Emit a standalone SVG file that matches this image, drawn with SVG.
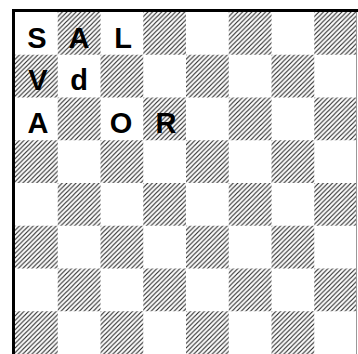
<svg xmlns="http://www.w3.org/2000/svg" width="358" height="354" viewBox="0 0 358 354">
<style>
.l{font-family:"Liberation Sans",Arial,sans-serif;font-weight:bold;font-size:29px;fill:#000;text-anchor:middle}
</style>
<defs>
<pattern id="hatch" patternUnits="userSpaceOnUse" width="4.6" height="4.6">
<path d="M-1,1 L1,-1 M0,4.6 L4.6,0 M3.6,5.6 L5.6,3.6" stroke="#222" stroke-width="1.1"/>
</pattern>
<rect id="h" width="42.75" height="42.75" fill="url(#hatch)"/>
</defs>
<rect width="358" height="354" fill="#fff"/>
<g id="board">
<use href="#h" x="57.75" y="12"/><use href="#h" x="143.25" y="12"/><use href="#h" x="228.75" y="12"/><use href="#h" x="314.25" y="12"/>
<use href="#h" x="15" y="54.75"/><use href="#h" x="100.5" y="54.75"/><use href="#h" x="186" y="54.75"/><use href="#h" x="271.5" y="54.75"/>
<use href="#h" x="57.75" y="97.5"/><use href="#h" x="143.25" y="97.5"/><use href="#h" x="228.75" y="97.5"/><use href="#h" x="314.25" y="97.5"/>
<use href="#h" x="15" y="140.25"/><use href="#h" x="100.5" y="140.25"/><use href="#h" x="186" y="140.25"/><use href="#h" x="271.5" y="140.25"/>
<use href="#h" x="57.75" y="183"/><use href="#h" x="143.25" y="183"/><use href="#h" x="228.75" y="183"/><use href="#h" x="314.25" y="183"/>
<use href="#h" x="15" y="225.75"/><use href="#h" x="100.5" y="225.75"/><use href="#h" x="186" y="225.75"/><use href="#h" x="271.5" y="225.75"/>
<use href="#h" x="57.75" y="268.5"/><use href="#h" x="143.25" y="268.5"/><use href="#h" x="228.75" y="268.5"/><use href="#h" x="314.25" y="268.5"/>
<use href="#h" x="15" y="311.25"/><use href="#h" x="100.5" y="311.25"/><use href="#h" x="186" y="311.25"/><use href="#h" x="271.5" y="311.25"/>
</g>
<g id="frame">
<rect x="12" y="9" width="346" height="3" fill="#000"/>
<rect x="12" y="9" width="3" height="345" fill="#000"/>
<line x1="356.5" y1="12" x2="356.5" y2="354" stroke="#999" stroke-width="1"/>
</g>
<g id="letters">
<text class="l" x="37" y="48">S</text>
<text class="l" x="79" y="48">A</text>
<text class="l" x="123" y="48">L</text>
<text class="l" x="38" y="90">V</text>
<text class="l" x="79" y="90">d</text>
<text class="l" x="38" y="133">A</text>
<text class="l" x="121" y="133">O</text>
<text class="l" x="166" y="133">R</text>
</g>
</svg>
